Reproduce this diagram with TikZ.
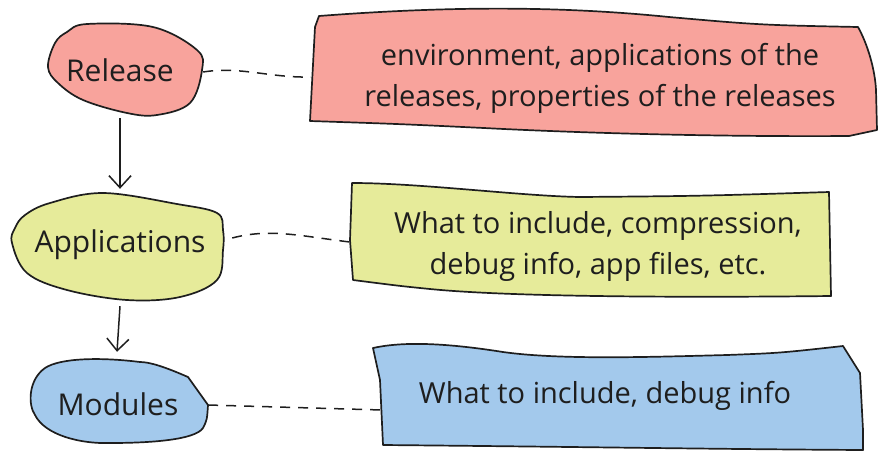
\documentclass[tikz,border=0pt]{standalone}
\usepackage{fontspec}
\setmainfont{Open Sans}
\usetikzlibrary{arrows.meta,calc,positioning}
\definecolor{rojo}{HTML}{F8A39C}
\definecolor{amarillo}{HTML}{E6EB9A}
\definecolor{azul}{HTML}{A3C9EC}
\definecolor{tinta}{HTML}{1E1E1E}
\tikzset{
  contorno/.style={draw=tinta,line width=1.7pt,line join=round},
  etiqueta/.style={font=\fontsize{30}{34}\selectfont,text=tinta,inner sep=0pt},
  texto/.style={font=\fontsize{29}{41}\selectfont,text=tinta,align=center,inner sep=0pt},
  flecha/.style={draw=tinta,line width=1.5pt,-{Straight Barb[length=12pt,width=22pt,line width=1.5pt]}},
  enlace/.style={draw=tinta,line width=1.5pt,dash pattern=on 10pt off 8pt},
}
\begin{document}
\begin{tikzpicture}[x=1pt,y=-1pt]
\useasboundingbox (0,0) rectangle (878,451);
% cajas
\filldraw[contorno,fill=rojo] (319,16) .. controls (450,6) and (560,6) .. (669,17) .. controls (760,25) .. (858,27) .. controls (868,45) and (875,70) .. (876,90) -- (877,130) -- (849,136) .. controls (700,137) and (560,132) .. (484,128) .. controls (400,124) .. (310,121) -- (315,27) -- cycle;
\filldraw[contorno,fill=amarillo] (352,183) .. controls (420,183) and (520,196) .. (580,197) .. controls (700,196) .. (829,192) -- (831,296) .. controls (650,298) and (500,296) .. (430,289) .. controls (400,286) .. (353,280) -- (350,240) -- cycle;
\filldraw[contorno,fill=azul] (373,348) .. controls (400,342) and (440,342) .. (503,352) .. controls (560,360) and (650,357) .. (727,355) .. controls (780,353) .. (843,346) -- (860,373) -- (863,430) -- (863,450) .. controls (700,449) and (600,447) .. (383,445) -- (380,380) -- cycle;
% burbujas
\filldraw[contorno,fill=rojo] plot[smooth cycle,tension=0.6] coordinates {(87,24) (153,27) (197,50) (202,70) (190,103) (157,115) (127,113) (83,100) (58,83) (48,67) (55,43) (67,32)};
\filldraw[contorno,fill=amarillo] plot[smooth cycle,tension=0.6] coordinates {(50,203) (103,193) (177,204) (217,213) (223,230) (223,250) (217,280) (180,297) (127,300) (67,290) (27,273) (12,243) (15,228) (25,215)};
\filldraw[contorno,fill=azul] (208,405) -- (188,377) .. controls (165,367) and (150,362) .. (140,362) .. controls (100,357) and (60,358) .. (45,368) .. controls (28,380) and (28,405) .. (35,415) .. controls (45,435) and (80,444) .. (110,443) .. controls (150,443) and (195,440) .. (203,428) .. controls (207,420) .. (208,405) -- cycle;
% textos
\node[etiqueta,minimum width=166pt,minimum height=96pt] (rel) at (120,70) {Release};
\node[etiqueta,minimum width=224pt,minimum height=112pt] (app) at (120,245) {Applications};
\node[etiqueta,minimum width=180pt,minimum height=104pt] (mod) at (118,404) {Modules};
\node[texto,minimum width=578pt] (relinfo) at (600,78) {environment, applications of the\\releases, properties of the releases};
\node[texto,minimum width=496pt] (appinfo) at (598,246) {What to include, compression,\\debug info, app files, etc.};
\node[texto,minimum width=446pt] (modinfo) at (605,396) {What to include, debug info};
% conectores
\draw[flecha] (rel.south) -- (app.north);
\draw[flecha] ([yshift=-5pt]app.south) -- ([xshift=-1pt]mod.north);
\draw[enlace] ([yshift=-2pt]rel.east) .. controls (240,66) and (270,78) .. ([yshift=1pt]relinfo.west);
\draw[enlace] ([yshift=7pt]app.east) .. controls (270,228) and (300,236) .. ([yshift=4pt]appinfo.west);
\draw[enlace] ([yshift=-1pt]mod.east) -- ([yshift=-14pt]modinfo.west);
\end{tikzpicture}
\end{document}
